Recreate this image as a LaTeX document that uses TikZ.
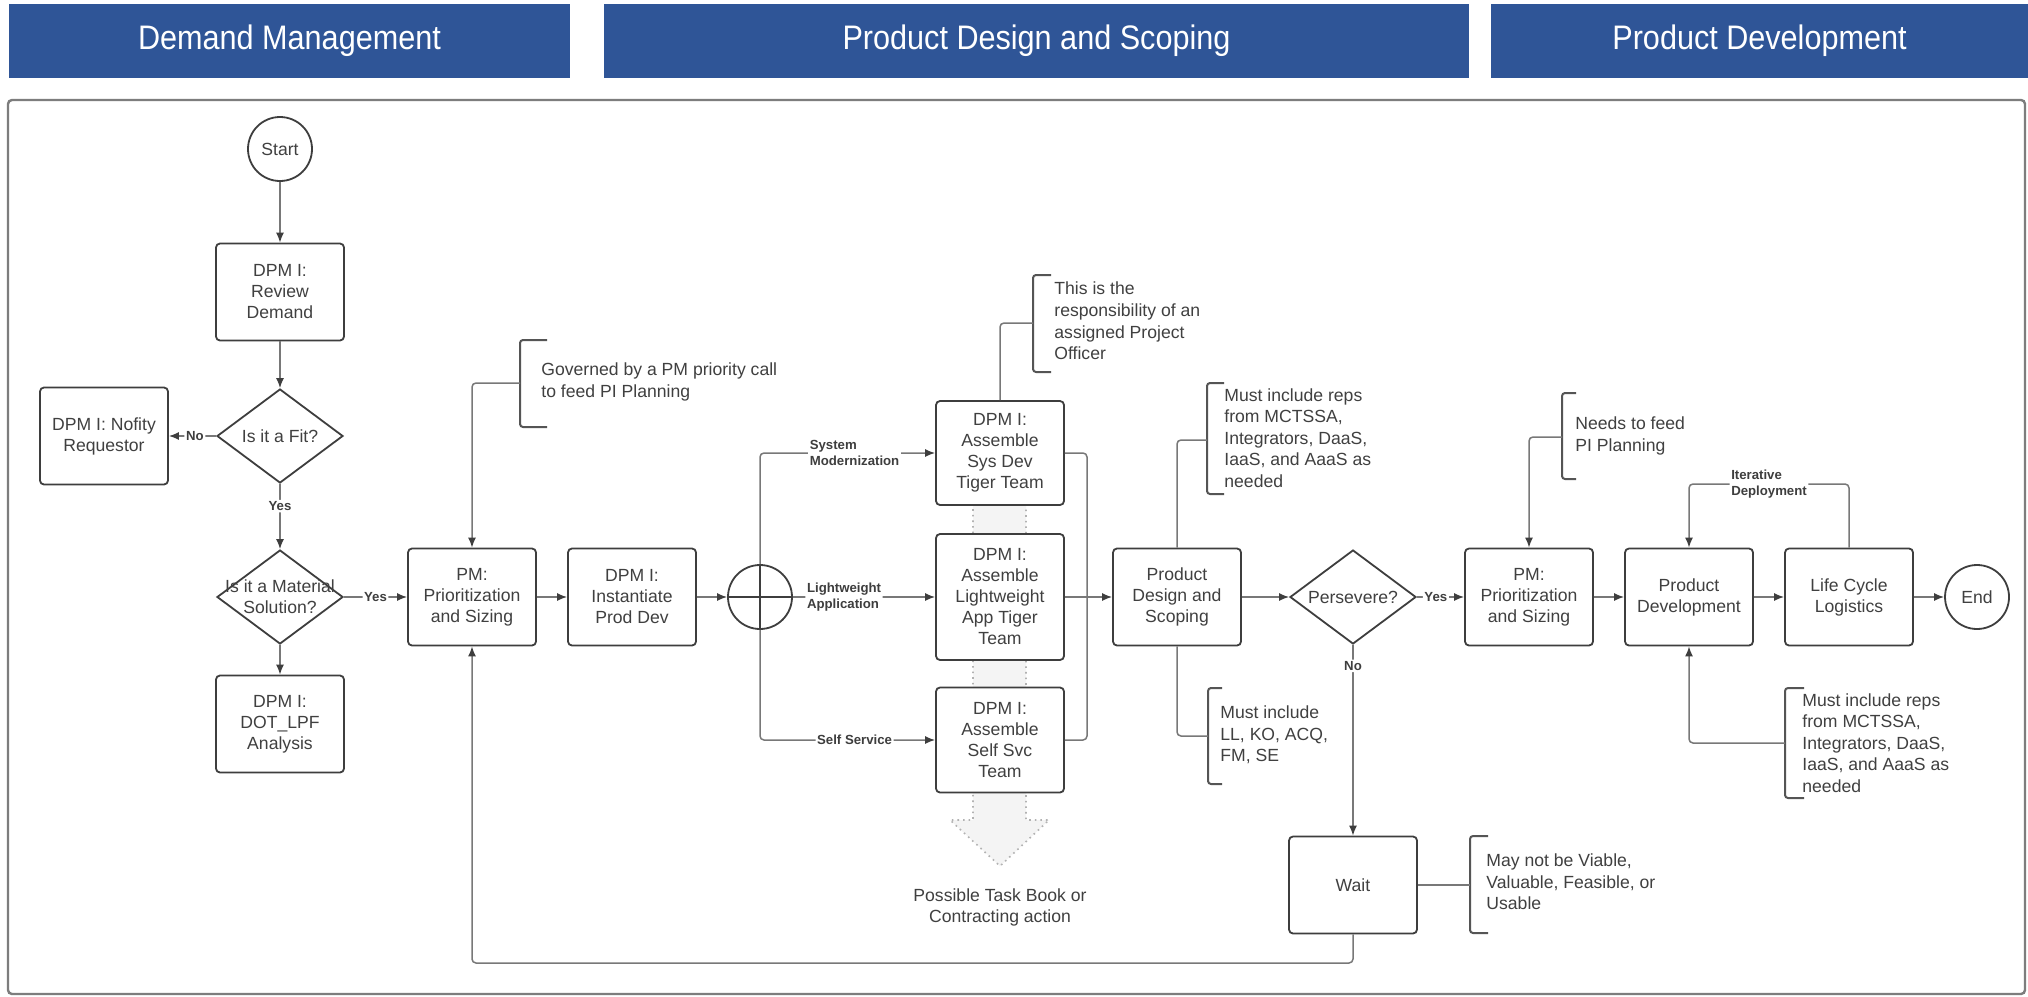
\documentclass[tikz,border=0pt]{standalone}
\usepackage{fontspec}
\setmainfont{Liberation Sans}
\newfontfamily\hdrfont[FakeStretch=0.9]{Liberation Sans}
\usetikzlibrary{shapes.geometric,arrows.meta}
\definecolor{hdr}{RGB}{47,85,151}
\definecolor{boxc}{RGB}{62,62,62}
\definecolor{txtc}{RGB}{64,64,64}
\definecolor{linec}{RGB}{120,120,120}
\definecolor{brc}{RGB}{85,85,85}
\definecolor{framec}{RGB}{125,125,125}
\begin{document}
\begin{tikzpicture}[x=0.5pt,y=-0.5pt,
  proc/.style={draw=boxc, line width=0.9pt, rounded corners=2pt, fill=white,
    minimum width=64pt, minimum height=48.5pt, inner sep=0pt, align=center,
    font=\fontsize{8.8pt}{10.5pt}\selectfont, text=txtc},
  dia/.style={draw=boxc, line width=0.9pt, diamond, minimum width=63pt,
    minimum height=47pt, inner sep=0pt, fill=white},
  dtext/.style={align=center, inner sep=0pt, font=\fontsize{8.8pt}{10.5pt}\selectfont, text=txtc},
  term/.style={draw=boxc, line width=0.9pt, circle, minimum size=32pt, inner sep=0pt,
    fill=white, font=\fontsize{8.8pt}{10.5pt}\selectfont, text=txtc},
  lbl/.style={font=\bfseries\fontsize{6.6pt}{8.3pt}\selectfont, text=boxc, fill=white,
    inner sep=0.8pt, align=left},
  note/.style={font=\fontsize{8.8pt}{10.8pt}\selectfont, text=txtc, align=left,
    anchor=west, inner sep=0pt},
  arr/.style={draw=linec, line width=0.75pt, rounded corners=2pt,
    -{Latex[length=5pt,width=4pt,color=boxc]}},
  ln/.style={draw=linec, line width=0.75pt, rounded corners=2pt},
  brk/.style={draw=brc, line width=1pt, rounded corners=1.5pt},
  hbar/.style={fill=hdr, text=white, font=\hdrfont\fontsize{17pt}{20pt}\selectfont,
    inner sep=0pt, minimum height=37pt}
]
\useasboundingbox (0,0) rectangle (2028,996);
\fill[white] (0,0) rectangle (2028,996);

% headers
\node[hbar, minimum width=280.5pt] (h1) at (289.5,41) {Demand Management};
\node[hbar, minimum width=432.5pt] (h2) at (1036.5,41) {Product Design and Scoping};
\node[hbar, minimum width=268.5pt] (h3) at (1759.5,41) {Product Development};

% frame
\draw[framec, line width=1.2pt, rounded corners=2pt] (8,100) rectangle (2025,994);

% block arrow behind the team boxes
\draw[fill=gray!9, draw=gray!60, dotted, line width=0.8pt]
  (973,470) -- (973,820) -- (950,820) -- (1000,866) -- (1049,820) -- (1026,820) -- (1026,470) -- cycle;
\node[dtext, align=center] (task) at (1000,907) {Possible Task Book or\\Contracting action};

% nodes
\node[term] (start) at (280,149) {Start};
\node[proc] (rev) at (280,292) {DPM I:\\Review\\Demand};
\node[dia] (fit) at (280,436) {};
\node[dtext] (fitT) at (fit) {Is it a Fit?};
\node[proc] (nof) at (104,436) {DPM I: Nofity\\Requestor};
\node[dia] (mat) at (280,597) {};
\node[dtext] (matT) at (mat) {Is it a Material\\Solution?};
\node[proc] (dot) at (280,724) {DPM I:\\DOT\_LPF\\Analysis};
\node[proc] (pm1) at (472,597) {PM:\\Prioritization\\and Sizing};
\node[proc] (inst) at (632,597) {DPM I:\\Instantiate\\Prod Dev};
\node[term] (sum) at (760,597) {};
\node[proc, minimum height=52pt] (sys) at (1000,453) {DPM I:\\Assemble\\Sys Dev\\Tiger Team};
\node[proc, minimum height=63pt] (lw) at (1000,597) {DPM I:\\Assemble\\Lightweight\\App Tiger\\Team};
\node[proc, minimum height=52.5pt] (ssv) at (1000,740) {DPM I:\\Assemble\\Self Svc\\Team};
\node[proc] (pd) at (1177,597) {Product\\Design and\\Scoping};
\node[dia] (pers) at (1353,597) {};
\node[dtext] (persT) at (pers) {Persevere?};
\node[proc] (pm2) at (1529,597) {PM:\\Prioritization\\and Sizing};
\node[proc] (pdev) at (1689,597) {Product\\Development};
\node[proc] (lcl) at (1849,597) {Life Cycle\\Logistics};
\node[term] (endn) at (1977,597) {End};
\node[proc] (wait) at (1353,885) {Wait};

% summing junction cross
\draw[boxc, line width=0.9pt] (sum.north) -- (sum.south) (sum.west) -- (sum.east);

% brackets
\draw[brk] (547,340) -- (520,340) -- (520,427) -- (547,427);
\coordinate (gB) at (520,383);
\node[note] (gT) at (541,382) {Governed by a PM priority call\\to feed PI Planning};

\draw[brk] (1051,275) -- (1033,275) -- (1033,372) -- (1051,372);
\coordinate (tB) at (1033,323);
\node[note] (tT) at (1054,321) {This is the\\responsibility of an\\assigned Project\\Officer};

\draw[brk] (1224,383) -- (1207,383) -- (1207,494) -- (1224,494);
\coordinate (pB1) at (1207,440);
\node[note] (pT1) at (1224,438) {Must include reps\\from MCTSSA,\\Integrators, DaaS,\\IaaS, and AaaS as\\needed};

\draw[brk] (1222,688) -- (1208,688) -- (1208,784) -- (1222,784);
\coordinate (pB2) at (1208,736);
\node[note] (pT2) at (1220,735) {Must include\\LL, KO, ACQ,\\FM, SE};

\draw[brk] (1576,393) -- (1562,393) -- (1562,479) -- (1576,479);
\coordinate (nB) at (1562,437);
\node[note] (nT) at (1575,436) {Needs to feed\\PI Planning};

\draw[brk] (1804,688) -- (1785,688) -- (1785,798) -- (1804,798);
\coordinate (rB) at (1785,743);
\node[note] (rT) at (1802,743) {Must include reps\\from MCTSSA,\\Integrators, DaaS,\\IaaS, and AaaS as\\needed};

\draw[brk] (1488,836) -- (1470,836) -- (1470,933) -- (1488,933);
\coordinate (mB) at (1470,885);
\node[note] (mT) at (1486,882) {May not be Viable,\\Valuable, Feasible, or\\Usable};

% connectors
\draw[arr] (start) -- (rev);
\draw[arr] (rev) -- (fit);
\draw[arr] (fit) -- node[lbl, pos=0.45] {No} (nof);
\draw[arr] (fit) -- node[lbl, pos=0.34] {Yes} (mat);
\draw[arr] (mat) -- (dot);
\draw[arr] (mat) -- node[lbl, pos=0.5] {Yes} (pm1);
\draw[arr] (pm1) -- (inst);
\draw[arr] (inst) -- (sum);
\draw[arr] (sum.north) |- node[lbl, pos=0.77] {System\\Modernization} (sys.west);
\draw[arr] (sum.east) -- node[lbl, pos=0.36] {Lightweight\\Application} (lw.west);
\draw[arr] (sum.south) |- node[lbl, pos=0.77] {Self Service} (ssv.west);
\coordinate (busT) at (1087,453);
\coordinate (busB) at (1087,740);
\draw[ln] (sys.east) -- (busT) -- (busB) -- (ssv.east);
\draw[arr] (lw.east) -- (pd.west);
\draw[arr] (gB) -| (pm1.north);
\draw[ln] (sys.north) |- (tB);
\draw[ln] (pd.north) |- (pB1);
\draw[ln] (pd.south) |- (pB2);
\draw[arr] (pd) -- (pers);
\draw[arr] (pers) -- node[lbl, pos=0.4] {Yes} (pm2);
\draw[arr] (pers) -- node[lbl, pos=0.11] {No} (wait);
\draw[arr] (nB) -| (pm2.north);
\draw[arr] (pm2) -- (pdev);
\draw[arr] (pdev) -- (lcl);
\draw[arr] (lcl) -- (endn);
\coordinate (itR) at (1849,484);
\coordinate (itL) at (1689,484);
\draw[arr] (lcl.north) -- (itR) -- node[lbl, pos=0.5] {Iterative\\Deployment} (itL) -- (pdev.north);
\draw[arr] (rB) -| (pdev.south);
\draw[ln] (wait.east) -- (mB);
\coordinate (fbR) at (1353,963);
\draw[arr] (wait.south) -- (fbR) -| (pm1.south);
\end{tikzpicture}
\end{document}
